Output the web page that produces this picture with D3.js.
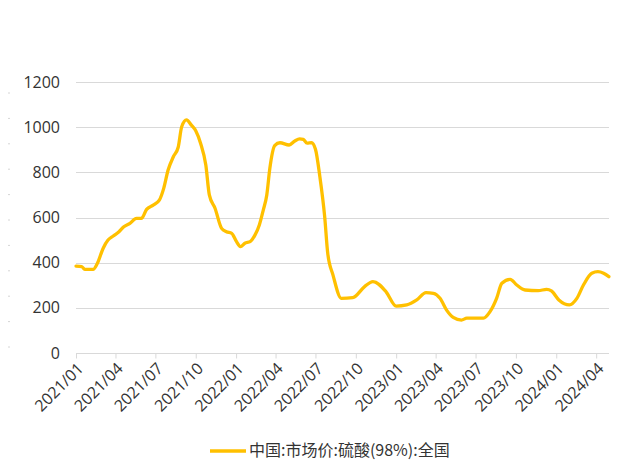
<!DOCTYPE html>
<html>
<head>
<meta charset="utf-8">
<script src="https://cdn.jsdelivr.net/npm/d3@7"></script>
<style>
  html, body { margin: 0; padding: 0; background: #fff; }
  svg { display: block; }
</style>
</head>
<body>
<svg id="chart" width="623" height="461"></svg>
<script>
// Sulfuric acid (98%) national market price, China
const seriesName = "中国:市场价:硫酸(98%):全国";

const dates = [
  "2021-01-01","2021-01-14","2021-01-21","2021-02-09","2021-02-18","2021-03-04","2021-03-15","2021-03-27",
  "2021-04-09","2021-04-20","2021-05-04","2021-05-19","2021-05-30","2021-06-11","2021-06-26","2021-07-10",
  "2021-07-20","2021-07-30","2021-08-11","2021-08-22","2021-08-30","2021-09-10","2021-09-21","2021-10-01",
  "2021-10-12","2021-10-24","2021-11-01","2021-11-14","2021-11-29","2021-12-10","2021-12-22","2022-01-02",
  "2022-01-11","2022-01-21","2022-02-02","2022-02-13","2022-02-23","2022-03-04","2022-03-12","2022-03-19",
  "2022-03-30","2022-04-11","2022-05-02","2022-05-15","2022-05-26","2022-06-03","2022-06-12","2022-06-22",
  "2022-07-01","2022-07-11","2022-07-22","2022-07-29","2022-08-10","2022-08-29","2022-09-24","2022-10-21",
  "2022-11-09","2022-12-09","2023-01-01","2023-01-25","2023-02-17","2023-03-10","2023-03-27","2023-04-11",
  "2023-04-26","2023-05-11","2023-05-30","2023-06-11","2023-07-19","2023-08-03","2023-08-18","2023-08-30",
  "2023-09-18","2023-10-03","2023-10-22","2023-11-21","2023-12-10","2023-12-21","2024-01-07","2024-01-31",
  "2024-02-17","2024-03-03","2024-03-22","2024-04-05","2024-04-18","2024-04-30"
];

const prices = [
  385, 383, 370, 370, 394, 464, 500, 518,
  537, 559, 574, 596, 596, 636, 655, 677,
  729, 810, 869, 911, 1002, 1032, 1009, 984,
  929, 832, 700, 641, 552, 537, 530, 493,
  471, 486, 493, 522, 567, 633, 700, 818,
  918, 931, 921, 939, 948, 946, 929, 931,
  902, 781, 604, 441, 345, 242, 245, 294,
  316, 271, 208, 213, 235, 267, 264, 242,
  190, 158, 146, 154, 154, 183, 242, 309,
  326, 301, 279, 276, 282, 275, 235, 213,
  242, 301, 353, 360, 353, 338
];

const yTicks = [0, 200, 400, 600, 800, 1000, 1200];
const xStart = "2021-01-01";
const xEnd = "2024-04-28";

const parse = d3.timeParse("%Y-%m-%d");
const data = dates.map((d, i) => ({ date: parse(d), value: prices[i] }));

const svg = d3.select("#chart");
const fontFamily = "'Open Sans', 'Noto Sans CJK SC', sans-serif";
const textColor = "#333333";

const x = d3.scaleTime().domain([parse(xStart), parse(xEnd)]).range([76, 608]);
const y = d3.scaleLinear().domain([0, 1200]).range([353, 82]);

// faint edge marks along the left margin
const edgeMarks = d3.range(93, 350, 25.4);
svg.append("g").selectAll("line").data(edgeMarks).join("line")
  .attr("x1", 8).attr("x2", 10)
  .attr("y1", d => d).attr("y2", d => d)
  .attr("stroke", "#d6d6d6").attr("stroke-width", 1);

// horizontal gridlines
svg.append("g").selectAll("line").data(yTicks.filter(t => t > 0)).join("line")
  .attr("x1", 76).attr("x2", 609)
  .attr("y1", d => Math.round(y(d)) + 0.5).attr("y2", d => Math.round(y(d)) + 0.5)
  .attr("stroke", "#d9d9d9").attr("stroke-width", 1);

// y axis labels
const yAxis = d3.axisLeft(y).tickValues(yTicks).tickSize(0).tickPadding(0).tickFormat(d3.format("d"));
const gy = svg.append("g").attr("transform", "translate(60,0)").call(yAxis);
gy.select(".domain").remove();
gy.selectAll("text")
  .attr("font-family", fontFamily).attr("font-size", 16).attr("fill", textColor);

// x axis
const xAxis = d3.axisBottom(x)
  .ticks(d3.timeMonth.every(3))
  .tickSize(5)
  .tickFormat(d3.timeFormat("%Y/%m"));
const gx = svg.append("g").attr("transform", "translate(0,353.5)").call(xAxis);
gx.select(".domain").attr("stroke", "#d9d9d9").attr("d", "M76,0H609");
gx.selectAll(".tick line").attr("stroke", "#d9d9d9");
gx.selectAll(".tick text")
  .attr("font-family", fontFamily).attr("font-size", 16).attr("fill", textColor)
  .attr("text-anchor", "end")
  .attr("dy", "0.35em")
  .attr("transform", "translate(4,12) rotate(-45)")
  .attr("y", 0).attr("x", 0);

// price line
const line = d3.line()
  .x(d => x(d.date))
  .y(d => y(d.value))
  .curve(d3.curveMonotoneX);

svg.append("path")
  .datum(data)
  .attr("d", line)
  .attr("fill", "none")
  .attr("stroke", "#FFC000")
  .attr("stroke-width", 3.3)
  .attr("stroke-linejoin", "round")
  .attr("stroke-linecap", "round");

// legend
const legend = svg.append("g").attr("transform", "translate(210,451)");
legend.append("line")
  .attr("x1", 0).attr("x2", 36).attr("y1", 0).attr("y2", 0)
  .attr("stroke", "#FFC000").attr("stroke-width", 3.3);
legend.append("text")
  .attr("x", 39).attr("y", 0).attr("dy", "0.33em")
  .attr("font-family", "'Noto Sans CJK SC', sans-serif").attr("font-size", 16)
  .attr("fill", textColor)
  .text(seriesName);
</script>
</body>
</html>
